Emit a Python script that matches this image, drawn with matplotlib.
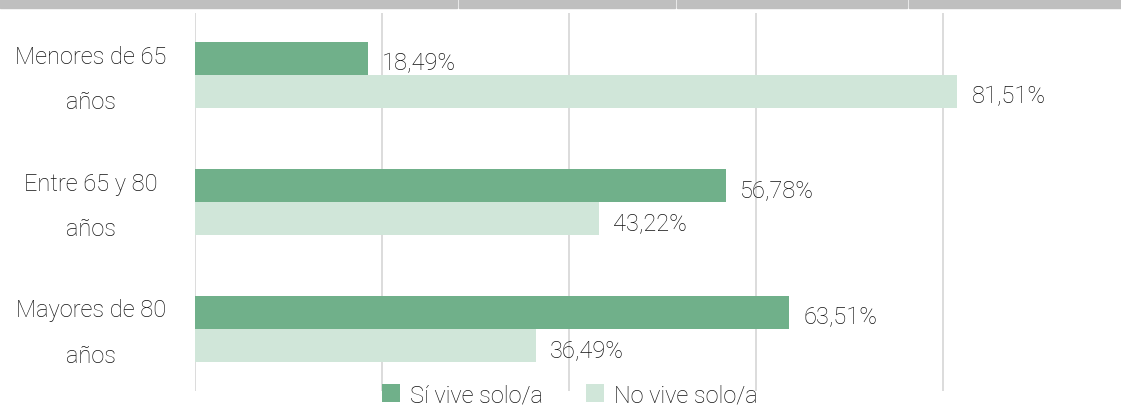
import matplotlib.pyplot as plt
import matplotlib.patches as mpatches
import matplotlib.transforms as mtransforms
import numpy as np

# data
categories = ["Menores de 65\naños", "Entre 65 y 80\naños", "Mayores de 80\naños"]
si_vive = [18.49, 56.78, 63.51]
no_vive = [81.51, 43.22, 36.49]
series_names = ["Sí vive solo/a", "No vive solo/a"]

plt.rcParams['font.family'] = ['Roboto', 'DejaVu Sans']

dark = '#70b08a'
light = '#d0e6d9'
txt = '#111111'
fs = 17
fw = 'light'

fig = plt.figure(figsize=(11.21, 4.10), dpi=100)
ax = fig.add_axes([195 / 1121, 1 - 392 / 410, 1 - 195 / 1121, (392 - 14) / 410])

y = np.arange(len(categories))
h = 0.26
b1 = ax.barh(y - h / 2, si_vive, height=h, color=dark, label=series_names[0], zorder=3)
b2 = ax.barh(y + h / 2, no_vive, height=h, color=light, label=series_names[1], zorder=3)

for bars, vals in [(b1, si_vive), (b2, no_vive)]:
    for rect, v in zip(bars, vals):
        ax.text(v + 1.5, rect.get_y() + rect.get_height() / 2 + 0.03,
                f"{v:.2f}%".replace('.', ','), va='center', ha='left',
                fontsize=fs, color=txt, fontweight=fw)

ax.set_xlim(0, 99)
ax.set_ylim(len(categories) - 0.51, -0.49)
ax.set_xticks([0, 20, 40, 60, 80])
ax.set_xticklabels([])
ax.tick_params(axis='x', length=0)
ax.grid(axis='x', color='#d9d9d9', linewidth=1.3, zorder=0)
ax.set_yticks(y)
ax.set_yticklabels([])
ax.tick_params(axis='y', length=0)
for s in ax.spines.values():
    s.set_visible(False)

# category labels, centred two-line blocks left of the axis
trans = mtransforms.blended_transform_factory(ax.transAxes, ax.transData)
for yi, cat in zip(y, categories):
    ax.text(-104 / 926, yi + 0.03, cat, transform=trans, ha='center', va='center',
            multialignment='center', linespacing=2.25, fontsize=fs, color=txt,
            fontweight=fw)

# grey header strip at the top
for x0, x1 in [(0, 457), (459, 675), (677, 907), (909, 1121)]:
    fig.patches.append(mpatches.Rectangle((x0 / 1121, 1 - 9 / 410), (x1 - x0) / 1121, 9 / 410,
                                          transform=fig.transFigure, color='#bfbfbf', zorder=5))

leg = fig.legend(handles=[b1, b2], loc='lower center', bbox_to_anchor=(570 / 1121, -0.045),
                 ncol=2, frameon=False, fontsize=fs, handlelength=0.75, handleheight=0.75,
                 handletextpad=0.45, columnspacing=1.8, labelcolor=txt)
for t in leg.get_texts():
    t.set_fontweight(fw)

fig.savefig('out.png', dpi=100)
